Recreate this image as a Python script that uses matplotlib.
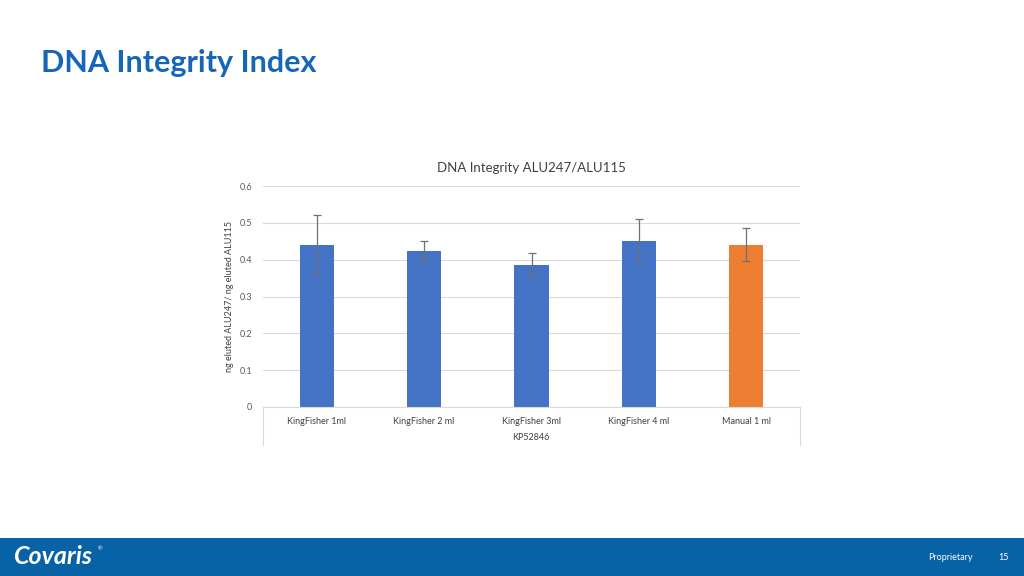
import matplotlib.pyplot as plt
from matplotlib.patches import Rectangle
import numpy as np

plt.rcParams['font.family'] = ['Lato', 'DejaVu Sans']

categories = ["KingFisher 1ml", "KingFisher 2 ml", "KingFisher 3ml", "KingFisher 4 ml", "Manual 1 ml"]
values = [0.440, 0.423, 0.386, 0.451, 0.441]
errors = [0.080, 0.027, 0.032, 0.059, 0.044]
bar_colors = ["#4472C4", "#4472C4", "#4472C4", "#4472C4", "#ED7D31"]
y_ticks = [0, 0.1, 0.2, 0.3, 0.4, 0.5, 0.6]
y_tick_labels = ["0", "0.1", "0.2", "0.3", "0.4", "0.5", "0.6"]

fig = plt.figure(figsize=(10.24, 5.76), dpi=100)

# slide title
fig.text(41 / 1024, 1 - 63 / 576, "DNA Integrity Index", fontsize=22, fontweight='bold',
         color="#1565B8", va='center', ha='left')

# chart
ax = fig.add_axes([263 / 1024, 1 - 407 / 576, 537 / 1024, 221 / 576])
x = np.arange(len(categories))
ax.bar(x, values, width=0.32, color=bar_colors, zorder=2)
ax.errorbar(x, values, yerr=errors, fmt='none', ecolor="#707070", elinewidth=0.9,
            capsize=3, capthick=0.9, zorder=3)
ax.set_xlim(-0.5, len(categories) - 0.5)
ax.set_ylim(0, 0.6)
ax.set_yticks(y_ticks)
ax.set_yticklabels(y_tick_labels, fontsize=6.5, color="#595959")
ax.set_xticks(x)
ax.set_xticklabels(categories, fontsize=6.5, color="#404040")
ax.tick_params(axis='both', length=0)
ax.tick_params(axis='y', pad=8)
ax.tick_params(axis='x', pad=7)
ax.grid(axis='y', color="#D9D9D9", linewidth=0.8, zorder=0)
for s in ['top', 'right', 'left']:
    ax.spines[s].set_visible(False)
ax.spines['bottom'].set_color("#D9D9D9")
ax.spines['bottom'].set_linewidth(0.8)
ax.set_title("DNA Integrity ALU247/ALU115", fontsize=9.5, color="#404040", pad=10)
ax.set_ylabel("ng eluted ALU247/ ng eluted ALU115", fontsize=6.5, color="#404040")
ax.yaxis.set_label_coords(-0.054, 0.5)

# group label box below axis
for xp in [263, 800]:
    fig.add_artist(plt.Line2D([xp / 1024, xp / 1024], [1 - 407 / 576, 1 - 445 / 576],
                              color="#D9D9D9", linewidth=0.8))
fig.text(531 / 1024, 1 - 438 / 576, "KP52846", fontsize=6.5, color="#404040",
         ha='center', va='center')

# footer band
fig.add_artist(Rectangle((0, 0), 1, 38 / 576, transform=fig.transFigure,
                         facecolor="#0762A6", edgecolor='none'))
fig.text(14 / 1024, 19 / 576, "Covaris", fontsize=18, fontweight='bold', style='italic',
         color='white', va='center', ha='left')
fig.text(98 / 1024, 27 / 576, "®", fontsize=4, color='white', va='center', ha='left')
fig.text(950 / 1024, 19 / 576, "Proprietary", fontsize=6.5, color='white', va='center', ha='center')
fig.text(1003 / 1024, 19 / 576, "15", fontsize=6.5, color='white', va='center', ha='center')

fig.savefig("out.png", dpi=100)
